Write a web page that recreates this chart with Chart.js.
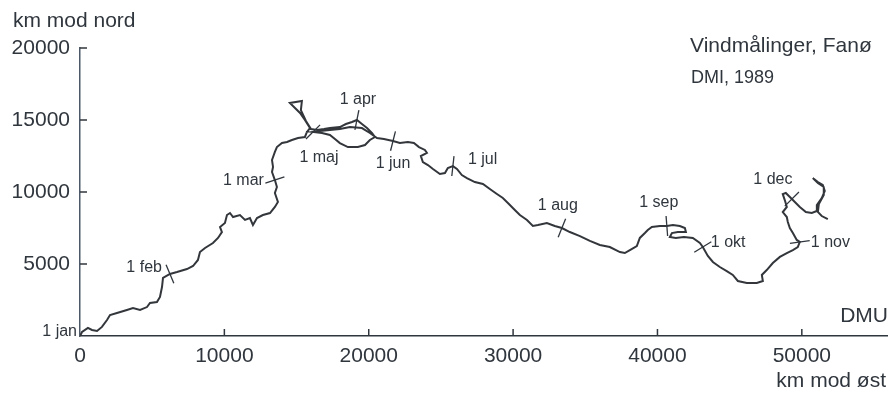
<!DOCTYPE html>
<html>
<head>
<meta charset="utf-8">
<script src="https://cdn.jsdelivr.net/npm/chart.js@4/dist/chart.umd.min.js"></script>
<style>
  html, body { margin: 0; padding: 0; background: #ffffff; }
  #wrap { width: 894px; height: 394px; }
</style>
</head>
<body>
<div id="wrap"><canvas id="c" width="894" height="394"></canvas></div>
<script>
// Cumulative wind run at Fanø 1989 (km towards east / km towards north)
const eastKm = [
  0,140,550,830,1180,1520,1870,2080,2560,3250,
  3670,4160,4640,4850,5330,5540,5680,5750,6230,6720,
  7410,7830,8170,8310,8660,9210,9560,9830,9700,10040,
  10180,10390,10600,11080,11430,11770,11980,12260,12670,13160,
  13500,13710,13500,13640,13500,13300,13370,13300,13500,13640,
  13990,14340,14680,15100,15580,15720,15930,15580,15240,14540,
  15370,15300,15650,16000,16410,16900,17310,18000,18420,18840,
  19180,19530,19880,20220,20430,20080,19740,19250,18560,18000,
  17660,17310,16760,16140,16620,17310,18000,18700,19530,20080,
  20570,21050,21680,22160,22710,23130,23480,23890,24030,23610,
  23750,24100,24450,24930,25280,25480,25830,26110,26450,26800,
  27350,27910,28390,28880,29290,29710,30120,30470,30960,31370,
  31720,32340,32890,33380,33930,34630,35320,36010,36700,37400,
  37740,38090,38570,38780,39130,39330,39610,40170,40650,41070,
  41550,41900,41970,41410,41000,40860,41270,41830,42450,42940,
  43140,43490,43840,44320,44800,45220,45570,46190,46880,47300,
  47230,47570,47990,48480,48960,49380,49720,49860,49650,49380,
  49170,49030,48960,48680,48960,48820,48680,48890,49310,49860,
  50280,50690,51040,51040,51380,51590,51450,51110,50760,51110,
  51520,51520,51180,51110,51380,51800
];
const northKm = [
  0,280,560,420,350,630,1110,1460,1600,1810,
  1940,1810,2010,2290,2360,2710,3400,4030,4310,4440,
  4650,4860,5280,5830,6110,6460,6810,7220,7570,7850,
  8400,8540,8260,8400,8060,8190,7710,8190,8400,8540,
  8960,9310,9930,10350,10830,11390,11740,12220,12780,13120,
  13400,13470,13610,13750,13820,14170,14440,15000,15490,16180,
  16320,15690,14930,14370,14300,14370,14440,14510,14720,14860,
  15000,14720,14440,14100,13820,13610,13260,13120,13120,13400,
  13680,13960,14100,14170,14240,14300,14370,14510,14440,14100,
  13750,13680,13540,13400,13470,13400,13120,12920,12710,12500,
  12080,11870,11600,11250,11320,11670,11800,11600,11180,10970,
  10690,10560,10210,9860,9580,9170,8750,8400,8060,7640,
  7710,7850,7640,7500,7220,6940,6600,6320,6180,5830,
  5760,5970,6250,6810,7150,7360,7570,7640,7640,7710,
  7640,7500,7220,7220,7150,6870,6810,6870,6810,6460,
  6180,5560,5140,4790,4510,4240,3820,3680,3680,3820,
  4240,4580,5070,5490,5760,5970,6180,6530,6670,7150,
  7500,7920,8260,8610,8960,9440,9860,9930,9510,8960,
  8610,8540,8680,9100,9580,10070,10490,10690,10970,10620,
  10350,9790,9170,8610,8330,8120
];

// first of each month: name and position along the track
const monthNames = ['jan','feb','mar','apr','maj','jun','jul','aug','sep','okt','nov','dec'];
const monthStartIndex = [0,18,44,70,83,92,106,123,138,150,167,178];

// axis ticks
const xTickValues = [0,10000,20000,30000,40000,50000];
const yTickValues = [0,5000,10000,15000,20000];

// where each month label sits relative to its crossing mark (pixels)
const monthLabelPlacement = {
  jan: { dx: -3, dy: -4, align: 'right' },
  feb: { dx: -8, dy: -6, align: 'right' },
  mar: { dx: -11, dy: 1, align: 'right' },
  apr: { dx: 1, dy: -20, align: 'center' },
  maj: { dx: 6, dy: 26, align: 'center' },
  jun: { dx: 0, dy: 23, align: 'center' },
  jul: { dx: 15, dy: -6, align: 'left' },
  aug: { dx: -4, dy: -22, align: 'center' },
  sep: { dx: -8, dy: -23, align: 'center' },
  okt: { dx: 8, dy: -4, align: 'left' },
  nov: { dx: 11, dy: 1, align: 'left' },
  dec: { dx: -19, dy: -19, align: 'center' }
};

const INK = '#30363d';
const FONT = "'Liberation Sans', Arial, Helvetica, sans-serif";

const track = eastKm.map((x, i) => ({ x: x, y: northKm[i] }));

const decorations = {
  id: 'decorations',
  afterDatasetsDraw(chart) {
    const { ctx, scales } = chart;
    const xs = scales.x, ys = scales.y;
    ctx.save();
    ctx.strokeStyle = INK;
    ctx.lineWidth = 1.5;

    // tick marks pointing into the plot
    yTickValues.forEach(v => {
      if (v === 0) return;
      const py = ys.getPixelForValue(v);
      ctx.beginPath(); ctx.moveTo(xs.left, py); ctx.lineTo(xs.left + 7, py); ctx.stroke();
    });
    xTickValues.forEach(v => {
      if (v === 0) return;
      const px = xs.getPixelForValue(v);
      ctx.beginPath(); ctx.moveTo(px, ys.bottom); ctx.lineTo(px, ys.bottom - 7); ctx.stroke();
    });

    // month crossing marks and labels
    ctx.font = '16px ' + FONT;
    ctx.fillStyle = INK;
    ctx.textBaseline = 'middle';
    monthStartIndex.forEach((idx, m) => {
      const p = track[idx];
      const px = xs.getPixelForValue(p.x), py = ys.getPixelForValue(p.y);
      if (idx > 0) {
        const a = track[idx - 1], b = track[Math.min(idx + 1, track.length - 1)];
        const dx = xs.getPixelForValue(b.x) - xs.getPixelForValue(a.x);
        const dy = ys.getPixelForValue(b.y) - ys.getPixelForValue(a.y);
        const len = Math.hypot(dx, dy) || 1;
        const nx = -dy / len, ny = dx / len;
        ctx.lineWidth = 1.3;
        ctx.beginPath();
        ctx.moveTo(px - nx * 10, py - ny * 10);
        ctx.lineTo(px + nx * 10, py + ny * 10);
        ctx.stroke();
      }
      const name = monthNames[m];
      const pl = monthLabelPlacement[name];
      ctx.textAlign = pl.align;
      ctx.fillText('1 ' + name, px + pl.dx, py + pl.dy);
    });

    // titles and axis captions
    ctx.font = '21px ' + FONT;
    ctx.textAlign = 'left';
    ctx.fillText('km mod nord', 13, 21);
    ctx.fillText('Vindmålinger, Fanø', 690, 46);
    ctx.font = '18px ' + FONT;
    ctx.fillText('DMI, 1989', 691, 78);
    ctx.font = '21px ' + FONT;
    ctx.textAlign = 'right';
    ctx.fillText('DMU', 888, 316);
    ctx.fillText('km mod øst', 886, 381);
    ctx.restore();
  }
};

new Chart(document.getElementById('c'), {
  type: 'scatter',
  data: {
    datasets: [{
      data: track,
      showLine: true,
      borderColor: '#33373c',
      borderWidth: 2,
      pointRadius: 0,
      tension: 0
    }]
  },
  options: {
    responsive: false,
    animation: false,
    devicePixelRatio: 1,
    layout: { padding: { top: 48, right: 7, left: 0, bottom: 0 } },
    plugins: { legend: { display: false }, tooltip: { enabled: false } },
    scales: {
      x: {
        type: 'linear',
        min: 0,
        max: 55900,
        afterFit(scale) { scale.height = 58; },
        afterBuildTicks(scale) { scale.ticks = xTickValues.map(v => ({ value: v })); },
        grid: { display: false, drawTicks: false },
        border: { display: true, color: INK, width: 1.5 },
        ticks: {
          color: INK,
          padding: 8,
          font: { family: FONT, size: 21 },
          callback: v => String(v)
        }
      },
      y: {
        type: 'linear',
        min: 0,
        max: 20000,
        afterFit(scale) { scale.width = 80; },
        afterBuildTicks(scale) { scale.ticks = yTickValues.map(v => ({ value: v })); },
        grid: { display: false, drawTicks: false },
        border: { display: true, color: '#4d5866', width: 1.5 },
        ticks: {
          color: INK,
          padding: 10,
          font: { family: FONT, size: 21 },
          callback: v => (v === 0 ? '' : String(v))
        }
      }
    }
  },
  plugins: [decorations]
});
</script>
</body>
</html>
